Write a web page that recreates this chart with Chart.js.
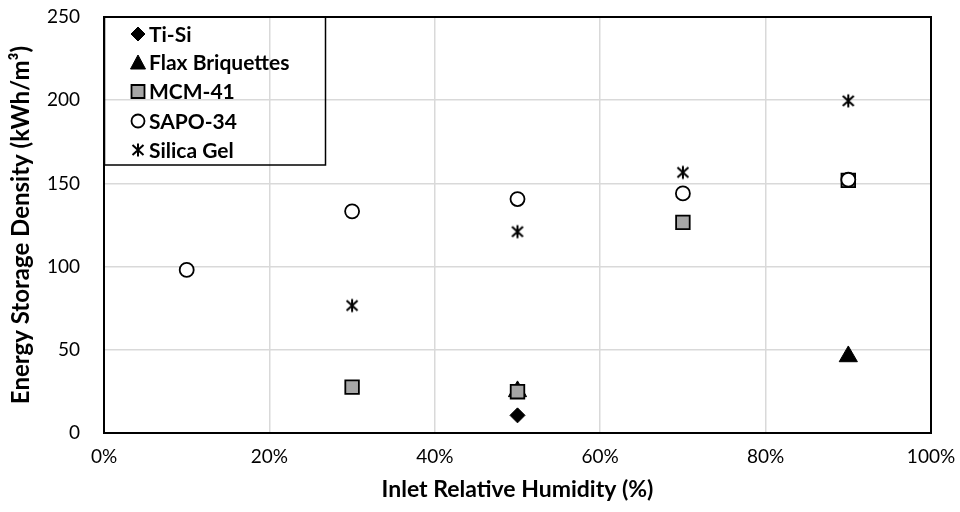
<!DOCTYPE html>
<html><head><meta charset="utf-8">
<script src="https://cdn.jsdelivr.net/npm/chart.js@4/dist/chart.umd.min.js"></script>
<style>html,body{margin:0;padding:0;background:#fff}#wrap{width:960px;height:512px;position:relative}</style>
</head><body><div id="wrap"><canvas id="c"></canvas></div>
<script>
// ---- data ----
const seriesNames = ['Ti-Si', 'Flax Briquettes', 'MCM-41', 'SAPO-34', 'Silica Gel'];
const xTiSi = [50];
const yTiSi = [10.6];
const xFlax = [50, 90];
const yFlax = [25, 46];
const xMCM = [30, 50, 70, 90];
const yMCM = [27.6, 24.8, 126.6, 151.8];
const xSAPO = [10, 30, 50, 70, 90];
const ySAPO = [98, 133.2, 140.6, 144, 152.2];
const xSilica = [30, 50, 70, 90];
const ySilica = [76.6, 121, 156.6, 199.6];
const xTickValues = [0, 20, 40, 60, 80, 100];
const yTickValues = [0, 50, 100, 150, 200, 250];
const xTitle = 'Inlet Relative Humidity (%)';
const yTitle = 'Energy Storage Density (kWh/m\u00B3)';

const FONT = 'Lato, "Open Sans", sans-serif';

function makeStar() {
  const s = 16, c = document.createElement('canvas');
  c.width = s; c.height = s;
  const g = c.getContext('2d');
  const m = s / 2;
  g.strokeStyle = '#000'; g.lineWidth = 2; g.lineCap = 'butt';
  g.beginPath();
  g.moveTo(m, m - 6.5); g.lineTo(m, m + 6.5);
  g.moveTo(m - 5.5, m - 5); g.lineTo(m + 5.5, m + 5);
  g.moveTo(m + 5.5, m - 5); g.lineTo(m - 5.5, m + 5);
  g.stroke();
  return c;
}
const starImg = makeStar();

function pts(xs, ys) { return xs.map((x, i) => ({ x: x, y: ys[i] })); }

const styles = [
  { pointStyle: 'rectRot', radius: 7.5, bg: '#000', border: '#000', bw: 1 },
  { pointStyle: 'triangle', radius: 10.5, bg: '#000', border: '#000', bw: 1 },
  { pointStyle: 'rect', radius: 9.6, bg: '#A6A6A6', border: '#000', bw: 1.8 },
  { pointStyle: 'circle', radius: 7, bg: '#fff', border: '#000', bw: 1.8 },
  { pointStyle: starImg, radius: 7, bg: '#000', border: '#000', bw: 1 }
];
const xsAll = [xTiSi, xFlax, xMCM, xSAPO, xSilica];
const ysAll = [yTiSi, yFlax, yMCM, ySAPO, ySilica];

const datasets = seriesNames.map((n, i) => ({
  label: n,
  data: pts(xsAll[i], ysAll[i]),
  pointStyle: styles[i].pointStyle,
  pointRadius: styles[i].radius,
  pointHoverRadius: styles[i].radius,
  backgroundColor: styles[i].bg,
  borderColor: styles[i].border,
  pointBorderWidth: styles[i].bw,
  showLine: false,
  order: seriesNames.length - i
}));

const frameLegendPlugin = {
  id: 'frameLegend',
  beforeDatasetsDraw(chart) {
    const { ctx, chartArea: a } = chart;
    ctx.save();
    ctx.strokeStyle = '#000';
    ctx.lineWidth = 2;
    ctx.strokeRect(a.left, a.top, a.right - a.left, a.bottom - a.top);
    ctx.restore();
  },
  afterDatasetsDraw(chart) {
    const { ctx, chartArea: a } = chart;
    ctx.save();
    const lx = a.left, ly = a.top, lw = 221, lh = 148;
    ctx.strokeStyle = '#000';
    ctx.lineWidth = 1.5;
    ctx.strokeRect(lx + 0.5, ly, lw, lh);
    ctx.font = 'bold 21px ' + FONT;
    ctx.fillStyle = '#000';
    ctx.textBaseline = 'middle';
    ctx.textAlign = 'left';
    const rowY = [17, 45.5, 74.5, 104, 133];
    seriesNames.forEach((n, i) => {
      const cx = lx + 34, cy = ly + rowY[i];
      const st = styles[i];
      ctx.fillStyle = st.bg; ctx.strokeStyle = st.border; ctx.lineWidth = st.bw;
      ctx.beginPath();
      if (st.pointStyle === 'rectRot') {
        const r = 7;
        ctx.moveTo(cx, cy - r); ctx.lineTo(cx + r, cy); ctx.lineTo(cx, cy + r); ctx.lineTo(cx - r, cy); ctx.closePath();
        ctx.fill(); ctx.stroke();
      } else if (st.pointStyle === 'triangle') {
        ctx.moveTo(cx, cy - 7.5); ctx.lineTo(cx + 7.5, cy + 6.5); ctx.lineTo(cx - 7.5, cy + 6.5); ctx.closePath();
        ctx.fill(); ctx.stroke();
      } else if (st.pointStyle === 'rect') {
        ctx.rect(cx - 6.5, cy - 6.5, 13, 13); ctx.fill(); ctx.stroke();
      } else if (st.pointStyle === 'circle') {
        ctx.arc(cx, cy, 6.5, 0, Math.PI * 2); ctx.fill(); ctx.stroke();
      } else {
        ctx.drawImage(starImg, cx - starImg.width / 2, cy - starImg.height / 2);
      }
      ctx.fillStyle = '#000';
      ctx.fillText(n, lx + 45, cy + 1);
    });
    ctx.restore();
  }
};

new Chart(document.getElementById('c'), {
  type: 'scatter',
  data: { datasets: datasets },
  plugins: [frameLegendPlugin],
  options: {
    responsive: true,
    maintainAspectRatio: false,
    animation: false,
    layout: { padding: { top: 17, right: 29, left: 0, bottom: 0 } },
    plugins: { legend: { display: false }, tooltip: { enabled: false } },
    scales: {
      x: {
        type: 'linear', min: 0, max: 100,
        afterBuildTicks: (s) => { s.ticks = xTickValues.map(v => ({ value: v })); },
        afterFit: (s) => { s.height = 79; s.paddingLeft = 0; s.paddingRight = 0; },
        grid: { color: '#D9D9D9', lineWidth: 1.5, drawTicks: false },
        border: { display: false },
        ticks: { padding: 12, color: '#000', font: { family: FONT, size: 19 }, callback: v => v + '%', maxRotation: 0 },
        title: { display: true, text: xTitle, color: '#000', font: { family: FONT, size: 23, weight: 'bold' }, padding: { top: 0, bottom: 9 } }
      },
      y: {
        type: 'linear', min: 0, max: 250,
        afterBuildTicks: (s) => { s.ticks = yTickValues.map(v => ({ value: v })); },
        afterFit: (s) => { s.width = 104; s.paddingTop = 0; s.paddingBottom = 0; },
        grid: { color: '#D9D9D9', lineWidth: 1.5, drawTicks: false },
        border: { display: false },
        ticks: { padding: 24, color: '#000', font: { family: FONT, size: 19 } },
        title: { display: true, text: yTitle, color: '#000', font: { family: FONT, size: 24, weight: 'bold' }, padding: { top: 7, bottom: 0 } }
      }
    }
  }
});
</script>
</body></html>
